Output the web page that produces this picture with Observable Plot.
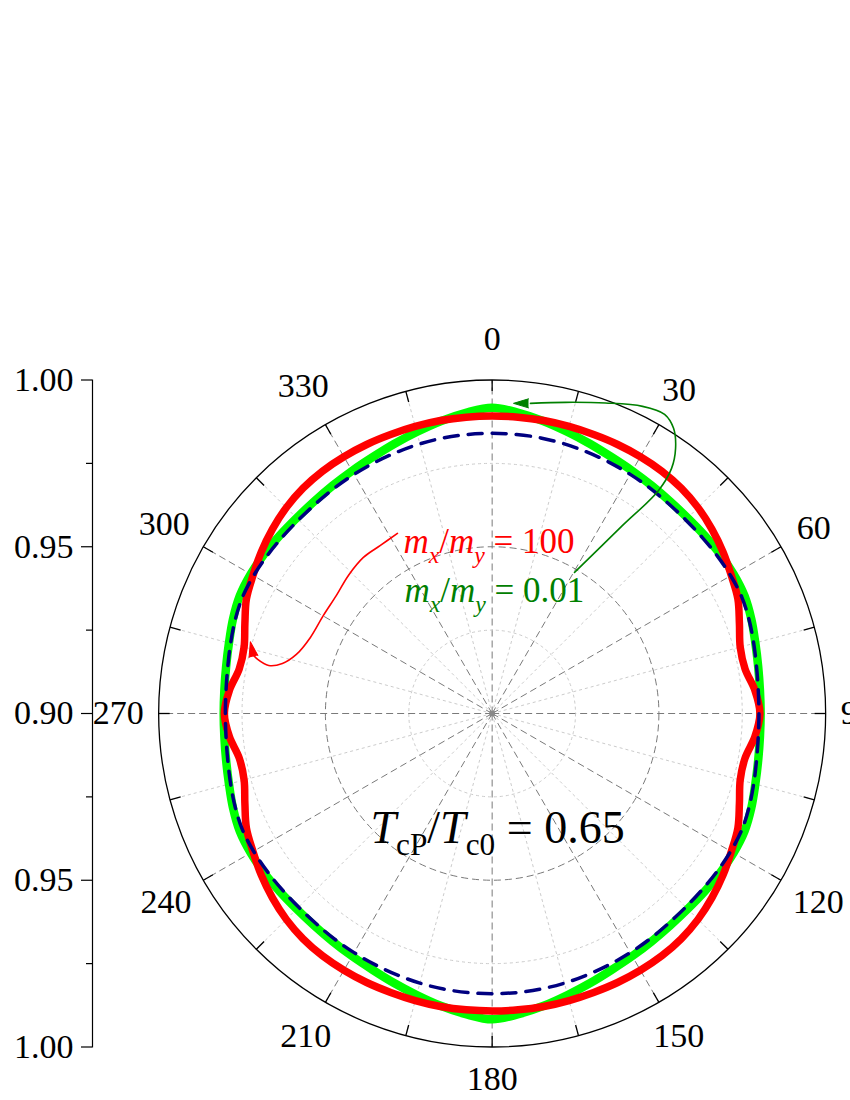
<!DOCTYPE html>
<html>
<head>
<meta charset="utf-8">
<script src="https://cdn.jsdelivr.net/npm/d3@7"></script>
<script src="https://cdn.jsdelivr.net/npm/@observablehq/plot@0.6"></script>
<style>
  body { margin: 0; background: #fff; }
  svg { display: block; }
</style>
</head>
<body>
<div id="chart"></div>
<script>
// ---- data (angle in degrees, clockwise from top; value = radial value) ----
const angles = d3.range(0, 360, 5);

const greenR = [
  0.9917,0.9905,0.9890,0.9874,0.9860,0.9848,0.9840,0.9834,0.9830,0.9829,0.9831,0.9834,0.9836,0.9835,0.9827,0.9817,0.9810,0.9806,0.9805,
  0.9806,0.9810,0.9817,0.9827,0.9835,0.9836,0.9834,0.9831,0.9829,0.9830,0.9834,0.9840,0.9848,0.9860,0.9874,0.9890,0.9905,0.9917,
  0.9905,0.9890,0.9874,0.9860,0.9848,0.9840,0.9834,0.9830,0.9829,0.9831,0.9834,0.9836,0.9835,0.9827,0.9817,0.9810,0.9806,0.9805,
  0.9806,0.9810,0.9817,0.9827,0.9835,0.9836,0.9834,0.9831,0.9829,0.9830,0.9834,0.9840,0.9848,0.9860,0.9874,0.9890,0.9905
];
const navyR = [
  0.9840,0.9840,0.9839,0.9837,0.9834,0.9831,0.9828,0.9825,0.9822,0.9821,0.9822,0.9824,0.9826,0.9826,0.9820,0.9812,0.9805,0.9801,0.9800,
  0.9801,0.9805,0.9812,0.9820,0.9826,0.9826,0.9824,0.9822,0.9821,0.9822,0.9825,0.9828,0.9831,0.9834,0.9837,0.9839,0.9840,0.9840,
  0.9840,0.9839,0.9837,0.9834,0.9831,0.9828,0.9825,0.9822,0.9821,0.9822,0.9824,0.9826,0.9826,0.9820,0.9812,0.9805,0.9801,0.9800,
  0.9801,0.9805,0.9812,0.9820,0.9826,0.9826,0.9824,0.9822,0.9821,0.9822,0.9825,0.9828,0.9831,0.9834,0.9837,0.9839,0.9840
];
const redR = [
  0.9892,0.9892,0.9892,0.9891,0.9890,0.9890,0.9889,0.9887,0.9882,0.9873,0.9860,0.9845,0.9828,0.9813,0.9789,0.9770,0.9770,0.9791,0.9803,
  0.9791,0.9770,0.9770,0.9789,0.9813,0.9828,0.9845,0.9860,0.9873,0.9882,0.9887,0.9889,0.9890,0.9890,0.9891,0.9892,0.9892,0.9892,
  0.9892,0.9892,0.9891,0.9890,0.9890,0.9889,0.9887,0.9882,0.9873,0.9860,0.9845,0.9828,0.9813,0.9789,0.9770,0.9770,0.9791,0.9803,
  0.9791,0.9770,0.9770,0.9789,0.9813,0.9828,0.9845,0.9860,0.9873,0.9882,0.9887,0.9889,0.9890,0.9890,0.9891,0.9892,0.9892
];

const rCenter = 0.90;                 // value at the pole
const radialMajor = [0.90, 0.95, 1.00];
const radialMinor = [0.925, 0.975];
const ringValues = [0.925, 0.95, 0.975, 1.00];
const angleTicks = d3.range(0, 360, 30);
const gridAngles = d3.range(0, 360, 15);

// annotation paths (x, y in radial-value units relative to the pole)
const greenArrowPath = [
  [0.0247,0.0423],[0.0385,0.0558],[0.0499,0.0669],[0.0538,0.0735],[0.0550,0.0795],
  [0.0544,0.0855],[0.0517,0.0897],[0.0451,0.0921],[0.0340,0.0931],[0.0220,0.0933],[0.0115,0.0930]
];
const redArrowPath = [
  [-0.0284,0.0540],[-0.0335,0.0504],[-0.0386,0.0468],[-0.0431,0.0414],[-0.0467,0.0354],
  [-0.0506,0.0294],[-0.0545,0.0228],[-0.0587,0.0177],[-0.0629,0.0150],[-0.0670,0.0144],
  [-0.0703,0.0162],[-0.0718,0.0178]
];
const arrowHeads = [
  {x: 0.0064, y: 0.0930, rotate: -90, color: "#008000"},
  {x: -0.0725, y: 0.0215, rotate: -12, color: "#ff0000"}
];
const notes = [
  {key: "NOTE_RED", x: -0.0266, y: 0.0480, color: "#ff0000", size: 35,
   parts: [["m","i"],["x","is"],["/",""],["m","i"],["y","is"],[" = 100",""]]},
  {key: "NOTE_GREEN", x: -0.0263, y: 0.0333, color: "#008000", size: 35,
   parts: [["m","i"],["x","is"],["/",""],["m","i"],["y","is"],[" = 0.01",""]]},
  {key: "NOTE_T", x: -0.0365, y: -0.0387, color: "#000000", size: 46,
   parts: [["T","i"],["cP","s"],["/",""],["T","i"],["c0","s"],[" = 0.65",""]]}
];

// ---- geometry ----
const Rpx = 333.5, cx = 491.65, cy = 713, K = Rpx / 0.1;
const rad = a => a * Math.PI / 180;
const px = (a, v) => (v - rCenter) * Math.sin(rad(a));
const py = (a, v) => (v - rCenter) * Math.cos(rad(a));

const rows = (vals) => angles.map((a, i) => ({a, v: vals[i]}));
const greenRows = rows(greenR), navyRows = rows(navyR), redRows = rows(redR);

function labelDist(a) {
  const w = String(a).length * 17;
  const s = Math.abs(Math.sin(rad(a))), c = Math.cos(rad(a));
  const hh = c > 0 ? 16 + 10 * Math.pow(c, 8) : 12 + 5 * Math.pow(c, 8);
  return (Rpx + 15 + s * w / 2 + Math.abs(c) * hh) / K;
}

const fontFamily = "'Liberation Serif', 'Times New Roman', serif";

const plot = Plot.plot({
  width: 850,
  height: 1100,
  marginLeft: 92, marginRight: 24, marginTop: 379.5, marginBottom: 53.5,
  style: {fontFamily, background: "white", color: "black"},
  x: {domain: [-0.1, 0.1], range: [cx - Rpx, cx + Rpx], axis: null},
  y: {domain: [-0.1, 0.1], range: [cy + Rpx, cy - Rpx]},
  r: {type: "linear", domain: [0, 0.1], range: [0, Rpx]},
  marks: [
    // radial grid lines
    Plot.link(gridAngles.filter(a => a % 30 !== 0), {
      x1: () => 0, y1: () => 0, x2: a => px(a, 1.0), y2: a => py(a, 1.0),
      stroke: "#cccccc", strokeWidth: 1, strokeDasharray: "3,3"
    }),
    Plot.link(gridAngles.filter(a => a % 30 === 0), {
      x1: () => 0, y1: () => 0, x2: a => px(a, 1.0), y2: a => py(a, 1.0),
      stroke: "#7a7a7a", strokeWidth: 1, strokeDasharray: "7,4"
    }),
    // rings
    Plot.dot(ringValues.filter(v => v === 0.925 || v === 0.975), {
      x: () => 0, y: () => 0, r: v => v - rCenter, fill: "none",
      stroke: "#cccccc", strokeWidth: 1, strokeDasharray: "3,3"
    }),
    Plot.dot(ringValues.filter(v => v === 0.95), {
      x: () => 0, y: () => 0, r: v => v - rCenter, fill: "none",
      stroke: "#7a7a7a", strokeWidth: 1, strokeDasharray: "7,4"
    }),
    Plot.dot(ringValues.filter(v => v === 1.00), {
      x: () => 0, y: () => 0, r: v => v - rCenter, fill: "none",
      stroke: "black", strokeWidth: 1.3
    }),
    // ticks on outer ring (inward)
    Plot.link(gridAngles, {
      x1: a => px(a, 1.0), y1: a => py(a, 1.0),
      x2: a => px(a, 1.0 - 11 / K), y2: a => py(a, 1.0 - 11 / K),
      stroke: "black", strokeWidth: 1.3
    }),
    Plot.dot([0], {x: () => 0, y: () => 0, r: () => 3 / K, fill: "#888888", stroke: "none", symbol: "square"}),
    // angle labels
    Plot.text(angleTicks, {
      x: a => Math.sin(rad(a)) * labelDist(a), y: a => Math.cos(rad(a)) * labelDist(a),
      text: a => String(a), fontSize: 34, textAnchor: "middle", lineAnchor: "middle", fill: "black"
    }),
    // data curves
    Plot.line(greenRows, {x: d => px(d.a, d.v), y: d => py(d.a, d.v), curve: "catmull-rom-closed",
      stroke: "#00ff00", strokeWidth: 8.5, strokeLinejoin: "round"}),
    Plot.line(redRows, {x: d => px(d.a, d.v), y: d => py(d.a, d.v), curve: "catmull-rom-closed",
      stroke: "#ff0000", strokeWidth: 7.5, strokeLinejoin: "round"}),
    Plot.line(navyRows, {x: d => px(d.a, d.v), y: d => py(d.a, d.v), curve: "catmull-rom-closed",
      stroke: "#000080", strokeWidth: 3.5, strokeDasharray: "14,10"}),
    // annotation arrows
    Plot.line(greenArrowPath, {x: d => d[0], y: d => d[1], curve: "catmull-rom", stroke: "#008000", strokeWidth: 1.6}),
    Plot.line(redArrowPath, {x: d => d[0], y: d => d[1], curve: "catmull-rom", stroke: "#ff0000", strokeWidth: 1.6}),
    Plot.vector(arrowHeads, {x: "x", y: "y", rotate: "rotate", length: 15, r: 4.5, shape: "spike",
      anchor: "end", fill: d => d.color, stroke: d => d.color, strokeWidth: 1}),
    // annotation texts (rich text applied below)
    Plot.text(notes, {x: "x", y: "y", text: "key", textAnchor: "start", lineAnchor: "bottom",
      fill: "color", fontSize: 35}),
    // left radial axis
    Plot.axisY(radialMajor.flatMap(v => v === rCenter ? [0] : [-(v - rCenter), v - rCenter]), {
      tickSize: 11, tickPadding: 8, fontSize: 34, label: null, stroke: "black", strokeWidth: 1.2,
      tickFormat: d => (rCenter + Math.abs(d)).toFixed(2)
    }),
    Plot.axisY(radialMinor.flatMap(v => [-(v - rCenter), v - rCenter]), {
      tickSize: 6, tickFormat: () => "", label: null, stroke: "black", strokeWidth: 1.2
    }),
    Plot.frame({anchor: "left", stroke: "black", strokeWidth: 1.2})
  ]
});

// rich text (italics and subscripts) for the annotations
const NS = "http://www.w3.org/2000/svg";
for (const n of notes) {
  const el = [...plot.querySelectorAll("text")].find(t => t.textContent === n.key);
  if (!el) continue;
  while (el.firstChild) el.removeChild(el.firstChild);
  let shift = 0;
  for (const [s, st] of n.parts) {
    const t = document.createElementNS(NS, "tspan");
    const sub = st.includes("s");
    const fs = sub ? n.size * 0.68 : n.size;
    const target = sub ? n.size * 0.26 : 0;
    const dy = target - shift; shift = target;
    if (dy) t.setAttribute("dy", dy.toFixed(2));
    t.setAttribute("font-size", fs);
    t.setAttribute("font-style", st.includes("i") ? "italic" : "normal");
    t.textContent = s;
    el.appendChild(t);
  }
}

document.getElementById("chart").appendChild(plot);
</script>
</body>
</html>
